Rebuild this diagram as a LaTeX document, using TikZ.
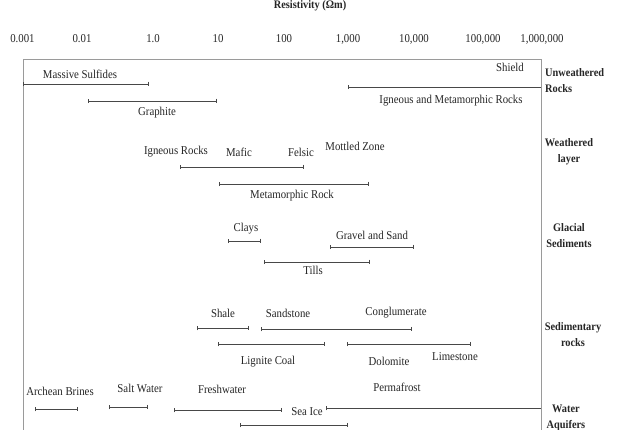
\documentclass[tikz,border=0pt]{standalone}
\usepackage{fontspec}
\setmainfont{Liberation Serif}[FakeStretch=0.9]
\usetikzlibrary{arrows.meta}
\definecolor{txt}{HTML}{262626}
\definecolor{barc}{HTML}{484848}
\definecolor{boxc}{HTML}{9A9A9A}
\begin{document}
\begin{tikzpicture}[x=1pt,y=-1pt,
  lbl/.style={font=\fontsize{12}{13}\selectfont, text=txt, inner sep=0pt},
  axl/.style={font=\fontsize{12}{13}\selectfont, text=txt, inner sep=0pt},
  cat/.style={font=\fontsize{11.5}{16}\selectfont\bfseries, text=txt, inner sep=0pt, align=center},
  bar/.style={draw=barc, line width=0.9pt, {Bar[width=4.5pt,line width=0.9pt]}-{Bar[width=4.5pt,line width=0.9pt]}},
  barL/.style={draw=barc, line width=0.9pt, {Bar[width=4.5pt,line width=0.9pt]}-},
  frame/.style={draw=boxc, line width=1pt}]
\useasboundingbox (0,0) rectangle (618,430);
\clip (0,0) rectangle (618,430);
\fill[white] (0,0) rectangle (618,430);

% title and axis
\node[lbl, font=\fontsize{11.5}{13}\selectfont\bfseries] (title) at (310,6) {Resistivity (Ωm)};
\node[axl] (a1) at (22.5,39) {0.001};
\node[axl] (a2) at (82,39) {0.01};
\node[axl] (a3) at (153,39) {1.0};
\node[axl] (a4) at (218,39) {10};
\node[axl] (a5) at (284,39) {100};
\node[axl] (a6) at (348,39) {1,000};
\node[axl] (a7) at (414,39) {10,000};
\node[axl] (a8) at (483,39) {100,000};
\node[axl] (a9) at (542,39) {1,000,000};

% frame
\coordinate (fbl) at (23,440);
\coordinate (ftl) at (23,60);
\coordinate (ftr) at (541,60);
\coordinate (fbr) at (541,440);
\draw[frame] (fbl) -- (ftl) -- (ftr) -- (fbr);

% categories
\node[cat, align=left, anchor=west] (c1) at (545,81) {Unweathered\\Rocks};
\node[cat] (c2) at (569,152) {Weathered\\layer};
\node[cat] (c3) at (569,235.5) {Glacial\\Sediments};
\node[cat] (c4) at (573,334.5) {Sedimentary\\rocks};
\node[cat] (c5) at (566,418) {Water\\Aquifers};

% labels
\node[lbl] (ms) at (80,74) {Massive Sulfides};
\node[lbl] (sh) at (510,67) {Shield};
\node[lbl] (gr) at (157,113) {Graphite};
\node[lbl] (igm) at (451,101) {Igneous and Metamorphic Rocks};
\node[lbl] (ig) at (176,152) {Igneous Rocks};
\node[lbl] (maf) at (239,152) {Mafic};
\node[lbl] (fel) at (301,152) {Felsic};
\node[lbl] (mz) at (355,146) {Mottled Zone};
\node[lbl] (mr) at (292,196) {Metamorphic Rock};
\node[lbl] (cl) at (246,229) {Clays};
\node[lbl] (gs) at (372,235) {Gravel and Sand};
\node[lbl] (ti) at (313,270) {Tills};
\node[lbl] (sha) at (223,313) {Shale};
\node[lbl] (ss) at (288,313) {Sandstone};
\node[lbl] (co) at (396,313) {Conglumerate};
\node[lbl] (lc) at (268,362) {Lignite Coal};
\node[lbl] (do) at (389,361) {Dolomite};
\node[lbl] (li) at (455,357) {Limestone};
\node[lbl] (pf) at (397,387) {Permafrost};
\node[lbl] (ab) at (60,391) {Archean Brines};
\node[lbl] (sw) at (140,388) {Salt Water};
\node[lbl] (fw) at (222,389) {Freshwater};
\node[lbl] (si) at (307,412) {Sea Ice};

% bars
\coordinate (ms1) at (23,84);   \coordinate (ms2) at (149,84);
\coordinate (gr1) at (88,101);  \coordinate (gr2) at (217,101);
\coordinate (igm1) at (348,87); \coordinate (igm2) at (541,87);
\coordinate (ig1) at (180,167); \coordinate (ig2) at (304,167);
\coordinate (mr1) at (219,184); \coordinate (mr2) at (369,184);
\coordinate (cl1) at (228,241); \coordinate (cl2) at (261,241);
\coordinate (gs1) at (330,247); \coordinate (gs2) at (414,247);
\coordinate (ti1) at (264,262); \coordinate (ti2) at (370,262);
\coordinate (sha1) at (197,328); \coordinate (sha2) at (249,328);
\coordinate (ss1) at (261,329); \coordinate (ss2) at (412,329);
\coordinate (lc1) at (218,344); \coordinate (lc2) at (325,344);
\coordinate (do1) at (347,344); \coordinate (do2) at (471,344);
\coordinate (ab1) at (35,409);  \coordinate (ab2) at (78,409);
\coordinate (sw1) at (109,407); \coordinate (sw2) at (148,407);
\coordinate (fw1) at (174,410); \coordinate (fw2) at (282,410);
\coordinate (pf1) at (326,408); \coordinate (pf2) at (541,408);
\coordinate (si1) at (240,425); \coordinate (si2) at (348,425);

\draw[bar] (ms1) -- (ms2);
\draw[bar] (gr1) -- (gr2);
\draw[barL] (igm1) -- (igm2);
\draw[bar] (ig1) -- (ig2);
\draw[bar] (mr1) -- (mr2);
\draw[bar] (cl1) -- (cl2);
\draw[bar] (gs1) -- (gs2);
\draw[bar] (ti1) -- (ti2);
\draw[bar] (sha1) -- (sha2);
\draw[bar] (ss1) -- (ss2);
\draw[bar] (lc1) -- (lc2);
\draw[bar] (do1) -- (do2);
\draw[bar] (ab1) -- (ab2);
\draw[bar] (sw1) -- (sw2);
\draw[bar] (fw1) -- (fw2);
\draw[barL] (pf1) -- (pf2);
\draw[bar] (si1) -- (si2);
\end{tikzpicture}
\end{document}
